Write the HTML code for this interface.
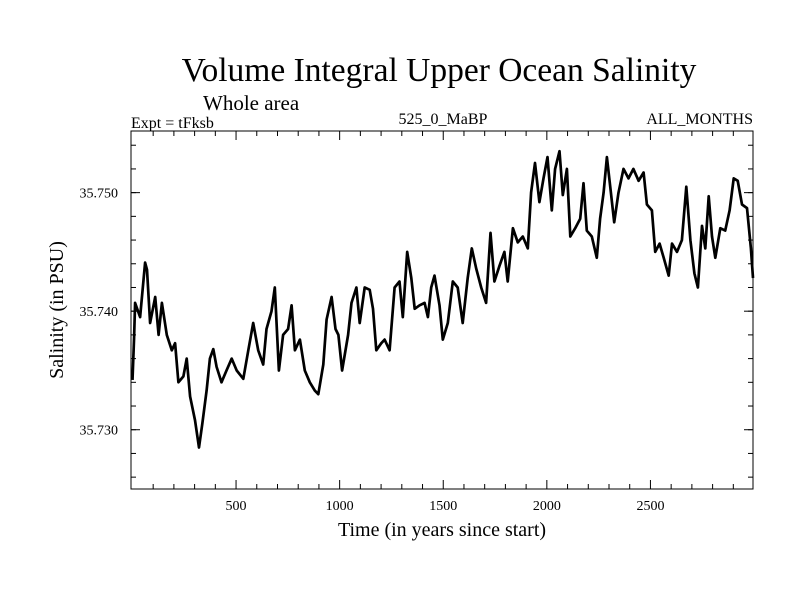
<!DOCTYPE html>
<html><head><meta charset="utf-8"><style>
body{margin:0;background:#fff;}
svg text{font-family:"Liberation Serif",serif;fill:#000;}
</style></head><body>
<svg id="chart" width="800" height="600" xmlns="http://www.w3.org/2000/svg">
<text x="439" y="81" font-size="33.5" text-anchor="middle">Volume Integral Upper Ocean Salinity</text>
<text x="203" y="110" font-size="21">Whole area</text>
<text x="131" y="128" font-size="16">Expt = tFksb</text>
<text x="443" y="124" font-size="16" text-anchor="middle">525_0_MaBP</text>
<text x="753" y="124" font-size="16" text-anchor="end">ALL_MONTHS</text>
<text x="442" y="536" font-size="20" text-anchor="middle">Time (in years since start)</text>
<text transform="translate(63,310) rotate(-90)" font-size="20" text-anchor="middle">Salinity (in PSU)</text>
<g id="axes"></g>
<path id="series" fill="none" stroke="#000" stroke-width="2.7" stroke-linejoin="round"/>
<rect x="131" y="131" width="622" height="358" fill="none" stroke="#000" stroke-width="1"/>
</svg>
<script>
const years=[0,8,13,37,61,70,85,110,126,142,166,190,206,222,246,262,278,302,321,337,358,374,390,406,430,454,479,503,535,559,583,607,631,647,671,687,707,727,751,768,784,808,832,856,880,897,921,937,961,980,994,1012,1041,1057,1081,1097,1121,1145,1161,1177,1201,1217,1241,1265,1289,1305,1326,1346,1362,1386,1410,1426,1442,1458,1482,1498,1522,1546,1570,1594,1618,1638,1659,1683,1707,1728,1747,1771,1795,1811,1836,1860,1884,1908,1924,1943,1964,1984,2003,2024,2040,2061,2077,2097,2113,2137,2161,2177,2193,2217,2241,2257,2274,2290,2309,2325,2346,2370,2394,2418,2443,2467,2483,2507,2523,2544,2564,2588,2604,2628,2652,2673,2693,2712,2729,2749,2765,2781,2797,2813,2837,2861,2882,2902,2921,2942,2966,2985,2995];
const salinity=[35.7342,35.7378,35.7407,35.7395,35.7441,35.7435,35.739,35.7412,35.738,35.7407,35.738,35.7367,35.7373,35.734,35.7345,35.736,35.7328,35.7308,35.7285,35.7305,35.7333,35.736,35.7368,35.7353,35.734,35.735,35.736,35.735,35.7343,35.7367,35.739,35.7367,35.7355,35.7385,35.74,35.742,35.735,35.738,35.7385,35.7405,35.7367,35.7376,35.735,35.734,35.7333,35.733,35.7355,35.7393,35.7412,35.7385,35.738,35.735,35.738,35.7407,35.742,35.739,35.742,35.7418,35.7402,35.7367,35.7373,35.7376,35.7367,35.742,35.7425,35.7395,35.745,35.7428,35.7402,35.7405,35.7407,35.7395,35.742,35.743,35.7405,35.7376,35.739,35.7425,35.742,35.739,35.7428,35.7453,35.7436,35.742,35.7407,35.7466,35.7425,35.7438,35.745,35.7425,35.747,35.7458,35.7463,35.7453,35.75,35.7525,35.7492,35.7512,35.753,35.7485,35.752,35.7535,35.7498,35.752,35.7463,35.747,35.7478,35.7508,35.7468,35.7463,35.7445,35.7478,35.75,35.753,35.75,35.7475,35.75,35.752,35.7512,35.752,35.751,35.7517,35.749,35.7485,35.745,35.7457,35.7445,35.743,35.7457,35.745,35.746,35.7505,35.746,35.7432,35.742,35.7472,35.7453,35.7497,35.7463,35.7445,35.747,35.7468,35.7485,35.7512,35.751,35.749,35.7487,35.7453,35.7428];
const xTickLabels=[500,1000,1500,2000,2500];
const yTickLabels=["35.730","35.740","35.750"];
const X0=131,X1=753,Y0=489,Y1=131,XMIN=-7,XMAX=2995,YMIN=35.725,YMAX=35.7552;
function xs(v){return X0+(v-XMIN)/(XMAX-XMIN)*(X1-X0);}
function ys(v){return Y0-(v-YMIN)/(YMAX-YMIN)*(Y0-Y1);}
const NS="http://www.w3.org/2000/svg";
const ax=document.getElementById('axes');
function line(x1,y1,x2,y2,name){const l=document.createElementNS(NS,'line');l.setAttribute('x1',x1);l.setAttribute('y1',y1);l.setAttribute('x2',x2);l.setAttribute('y2',y2);l.setAttribute('stroke','#000');l.setAttribute('stroke-width','1');


ax.appendChild(l);}
function text(x,y,s,anchor,name){const t=document.createElementNS(NS,'text');t.setAttribute('x',x);t.setAttribute('y',y);t.setAttribute('font-size','14');t.setAttribute('text-anchor',anchor);t.textContent=s;


ax.appendChild(t);}
for(let v=100;v<=2900;v+=100){const x=xs(v);const L=(v%500===0)?9:5;line(x,Y0,x,Y0-L,'x-tick');line(x,Y1,x,Y1+L,'x-tick-top');}
xTickLabels.forEach(v=>text(xs(v),510,String(v),'middle','x-tick-label'));
for(let k=0;k<=15;k++){const v=35.726+k*0.002;if(v>YMAX)break;const y=ys(v);line(X0,y,X0+5,y,'y-tick');line(X1,y,X1-5,y,'y-tick-right');}
yTickLabels.forEach(s=>{const y=ys(parseFloat(s));line(X0,y,X0+9,y,'y-major-tick');line(X1,y,X1-9,y,'y-major-tick-right');text(118,y+5,s,'end','y-tick-label');});
let d='';years.forEach((yr,i)=>{d+=(i?'L':'M')+xs(yr).toFixed(1)+','+ys(salinity[i]).toFixed(1);});
document.getElementById('series').setAttribute('d',d);
</script>
</body></html>
